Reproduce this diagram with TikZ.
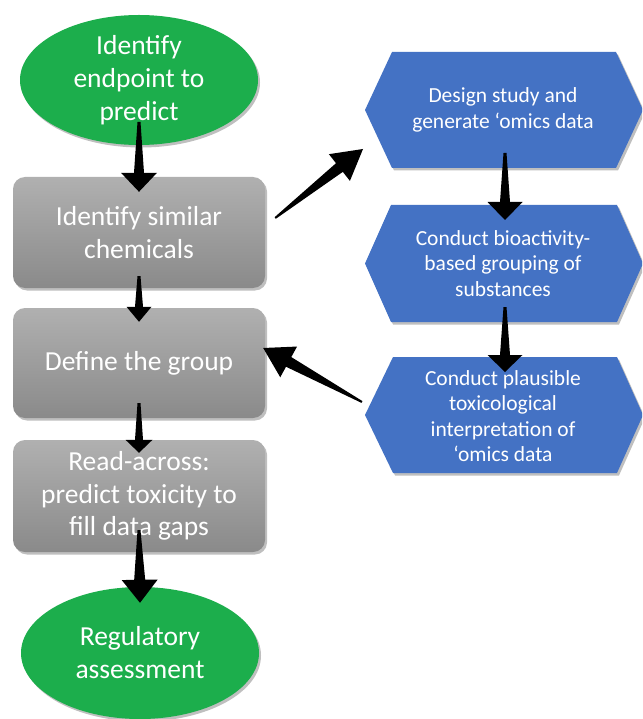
\documentclass[tikz,border=0pt]{standalone}
\usepackage{fontspec}
\setmainfont{Carlito}
\usetikzlibrary{shapes.geometric,shadows,calc}
\definecolor{grn}{RGB}{28,174,76}
\definecolor{blu}{RGB}{68,114,196}
\definecolor{gtop}{RGB}{176,176,176}
\definecolor{gbot}{RGB}{138,138,138}
\tikzset{
  softshadow/.style={drop shadow={shadow xshift=2pt,shadow yshift=-2.5pt,opacity=0.25,fill=black}},
  greenell/.style={ellipse, fill=grn, minimum width=238pt, minimum height=130pt, inner sep=0pt,
    text=white, align=center, font=\fontsize{27.5}{33}\selectfont, softshadow},
  graybox/.style={rectangle, rounded corners=12pt, top color=gtop, bottom color=gbot,
    minimum width=252pt, minimum height=111pt, inner sep=0pt,
    text=white, align=center, font=\fontsize{27.5}{32.5}\selectfont, softshadow},
  bluehex/.style={fill=blu, softshadow},
  bluetext/.style={text=white, align=center, font=\fontsize{21.5}{25.5}\selectfont, inner sep=0pt},
  fatarrowstyle/.style={fill=black}
}
\newcommand\fatarrow[6]{%
  \coordinate (fa-h) at ($(#2)!#6!(#1)$);
  \fill[fatarrowstyle] ($(#1)!#3!90:(#2)$) -- ($(fa-h)!#4!90:(#2)$) -- ($(fa-h)!#5!90:(#2)$)
    -- (#2) -- ($(fa-h)!#5!-90:(#2)$) -- ($(fa-h)!#4!-90:(#2)$) -- ($(#1)!#3!-90:(#2)$) -- cycle;
}
\begin{document}
\begin{tikzpicture}[x=1pt,y=-1pt]
\useasboundingbox (0,0) rectangle (642,719);
\clip (0,0) rectangle (642,719);
\fill[white] (0,0) rectangle (642,719);

% left column
\node[greenell] (e1) at (139,80) {Identify\\endpoint to\\predict};
\node[graybox] (g1) at (139,232.5) {Identify similar\\chemicals};
\node[graybox, minimum height=110pt] (g2) at (139,363) {Define the group};
\node[graybox, minimum height=112pt] (g3) at (139,496) {Read-across:\\predict toxicity to\\fill data gaps};
\node[greenell, minimum height=132pt] (e2) at (140,653) {Regulatory\\assessment};

% right column hexagons
\path[bluehex] (365,110) -- (392,52) -- (616,52) -- (643,110) -- (616,168) -- (392,168) -- cycle;
\coordinate (h1w) at (365,110);
\node[bluetext] (h1) at (503,110) {Design study and\\generate ‘omics data};

\path[bluehex] (365,263.5) -- (391,205) -- (617,205) -- (643,263.5) -- (617,322) -- (391,322) -- cycle;
\coordinate (h2w) at (365,263.5);
\node[bluetext] (h2) at (503,263.5) {Conduct bioactivity-\\based grouping of\\substances};

\path[bluehex] (365,415) -- (393,357) -- (617,357) -- (643,415) -- (617,473) -- (393,473) -- cycle;
\coordinate (h3w) at (365,415);
\node[bluetext] (h3) at (503,416) {Conduct plausible\\toxicological\\interpretation of\\‘omics data};

% arrow end points
\coordinate (a1s) at ($(e1.center)+(0,42)$);
\coordinate (a1e) at ($(g1.north)+(0,15)$);
\coordinate (a2s) at ($(g1.south)+(0,-12)$);
\coordinate (a2e) at ($(g2.north)+(0,14)$);
\coordinate (a3s) at ($(g2.south)+(0,-15)$);
\coordinate (a3e) at ($(g3.north)+(0,13)$);
\coordinate (a4s) at ($(g3.south)+(0,-22)$);
\coordinate (a4e) at ($(e2.north)+(0,16)$);
\coordinate (b1s) at ($(h1.center)+(2,43)$);
\coordinate (b1e) at ($(h2.center)+(2,-43.5)$);
\coordinate (b2s) at ($(h2.center)+(2,43.5)$);
\coordinate (b2e) at ($(h3.center)+(2,-44)$);
\coordinate (d1s) at ($(g1.east)+(10,-14.5)$);
\coordinate (d1e) at ($(h1w)+(-2,39)$);
\coordinate (d2s) at ($(h3w)+(-3,-13)$);
\coordinate (d2e) at ($(g2.east)+(-2,-15)$);

\fatarrow{a1s}{a1e}{1.5pt}{5pt}{18pt}{19pt}
\fatarrow{a2s}{a2e}{1.5pt}{4pt}{12.5pt}{15pt}
\fatarrow{a3s}{a3e}{1.5pt}{4pt}{13.5pt}{13pt}
\fatarrow{a4s}{a4e}{1.5pt}{5.5pt}{18pt}{23pt}
\fatarrow{b1s}{b1e}{1.5pt}{5pt}{17.5pt}{18pt}
\fatarrow{b2s}{b2e}{1.5pt}{5pt}{17.5pt}{17pt}
\fatarrow{d1s}{d1e}{1pt}{5.5pt}{17pt}{30pt}
\fatarrow{d2s}{d2e}{1pt}{5.5pt}{17.5pt}{29pt}
\end{tikzpicture}
\end{document}
